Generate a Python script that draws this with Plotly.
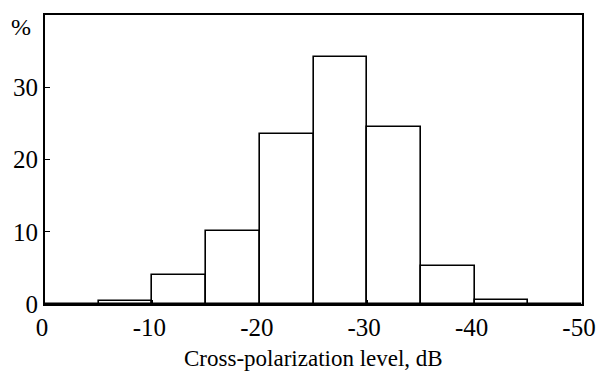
import plotly.graph_objects as go

bin_left = [0, -5, -10, -15, -20, -25, -30, -35, -40, -45]
percent = [0, 0.4, 4.0, 10.1, 23.5, 34.2, 24.5, 5.3, 0.5, 0]
x_ticks = [0, -10, -20, -30, -40, -50]
y_ticks = [0, 10, 20, 30]
bin_width = 5
x_title = "Cross-polarization level, dB"

centers = [b - bin_width / 2 for b in bin_left]

fig = go.Figure()
fig.add_trace(go.Bar(
    x=centers, y=percent, width=[bin_width] * len(centers),
    marker=dict(color="white", line=dict(color="black", width=1.6)),
    showlegend=False, hoverinfo="skip",
))

fam = "Liberation Serif, Times New Roman, serif"
tick_font = dict(family=fam, size=25, color="black")
title_font = dict(family=fam, size=23, color="black")

fig.update_layout(
    width=598, height=371,
    margin=dict(l=45, r=16, t=15, b=67),
    plot_bgcolor="white", paper_bgcolor="white",
    font=tick_font,
    bargap=0,
    xaxis=dict(
        range=[0, -50], tickvals=x_ticks, ticktext=[str(v) for v in x_ticks],
        showline=True, linecolor="black", linewidth=2, mirror=True,
        ticks="inside", ticklen=4, tickcolor="black", showgrid=False, zeroline=False,
        tickfont=tick_font, automargin=False, ticklabeloverflow="allow",
        ticklabelshift=3,
    ),
    yaxis=dict(
        range=[0, 40], tickvals=y_ticks, ticktext=[str(v) for v in y_ticks],
        showline=True, linecolor="black", linewidth=2, mirror=True,
        ticks="inside", ticklen=5, tickcolor="black", showgrid=False, zeroline=False,
        tickfont=tick_font, automargin=False, ticklabeloverflow="allow",
    ),
    annotations=[
        dict(text="%", xref="paper", yref="paper", x=0, y=1,
             xanchor="right", yanchor="top", xshift=-12, yshift=3, showarrow=False,
             font=dict(family=fam, size=24, color="black")),
        dict(text=x_title, xref="paper", yref="paper", x=0.5, y=0,
             xanchor="center", yanchor="middle", yshift=-54, showarrow=False,
             font=title_font),
    ],
)

fig.write_html("out.html")
